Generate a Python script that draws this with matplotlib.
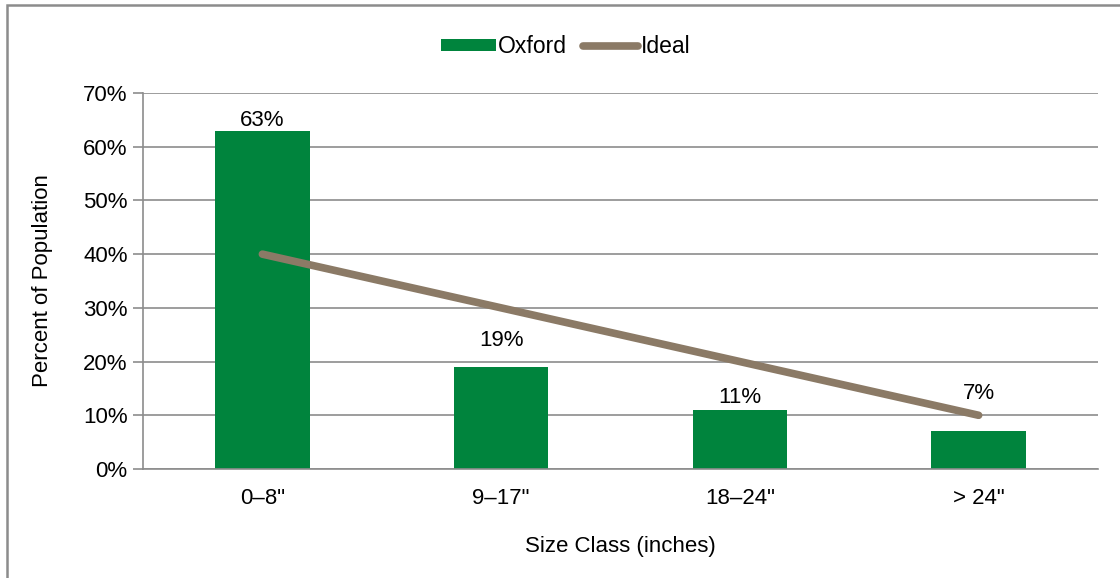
import matplotlib
matplotlib.use('Agg')
import matplotlib.pyplot as plt
from matplotlib.patches import Rectangle
import numpy as np

plt.rcParams['font.family'] = ['Liberation Sans', 'DejaVu Sans']
plt.rcParams['font.size'] = 16

categories = ['0\u20138"', '9\u201317"', '18\u201324"', '> 24"']
oxford = [63, 19, 11, 7]
ideal = [40, 30, 20, 10]
label_offsets = [7, 19, 9, 27]  # points above bar top

green = '#00843D'
taupe = '#8B7A66'
grid_c = '#8C8C8C'

fig = plt.figure(figsize=(11.2, 5.78), dpi=100)
ax = fig.add_axes([143 / 1120, 1 - 469 / 578, (1098 - 143) / 1120, (469 - 93) / 578])

x = np.arange(len(categories))
ax.bar(x, oxford, width=0.395, color=green, label='Oxford', zorder=2)
ax.plot(x, ideal, color=taupe, linewidth=5.5, solid_capstyle='round', label='Ideal', zorder=3)

for xi, v, off in zip(x, oxford, label_offsets):
    ax.annotate(f'{v}%', (xi, v), xytext=(0, off), textcoords='offset points',
                ha='center', va='center', fontsize=16, zorder=4)

ax.set_xlim(-0.5, len(categories) - 0.5)
ax.set_ylim(0, 70)
ax.set_yticks(range(0, 71, 10))
ax.set_yticklabels([f'{t}%' for t in range(0, 71, 10)])
ax.set_xticks(x)
ax.set_xticklabels(categories)
ax.tick_params(axis='x', length=0, pad=14)
ax.tick_params(axis='y', length=7, width=1.2, color=grid_c, pad=4)

ax.grid(axis='y', color=grid_c, linewidth=1.2, zorder=0)
ax.set_axisbelow(True)
for s in ['top', 'right']:
    ax.spines[s].set_visible(False)
for s in ['left', 'bottom']:
    ax.spines[s].set_color(grid_c)
    ax.spines[s].set_linewidth(1.2)

ax.set_ylabel('Percent of Population', fontsize=16, labelpad=22)
ax.set_xlabel('Size Class (inches)', fontsize=16, labelpad=19)

handles, labels = ax.get_legend_handles_labels()
order = [labels.index('Oxford'), labels.index('Ideal')]
fig.legend([handles[i] for i in order], [labels[i] for i in order],
           loc='upper center', bbox_to_anchor=(0.505, 0.975), ncol=2, frameon=False,
           handlelength=2.4, handleheight=0.45, columnspacing=0.7, handletextpad=0.1,
           fontsize=16.5)

fig.patches.append(Rectangle((7 / 1120, -0.1), 1.2, 1 - 5 / 578 + 0.1,
                             transform=fig.transFigure, fill=False,
                             edgecolor='#8C8C8C', linewidth=1.8))

fig.savefig('out.png', dpi=100)
